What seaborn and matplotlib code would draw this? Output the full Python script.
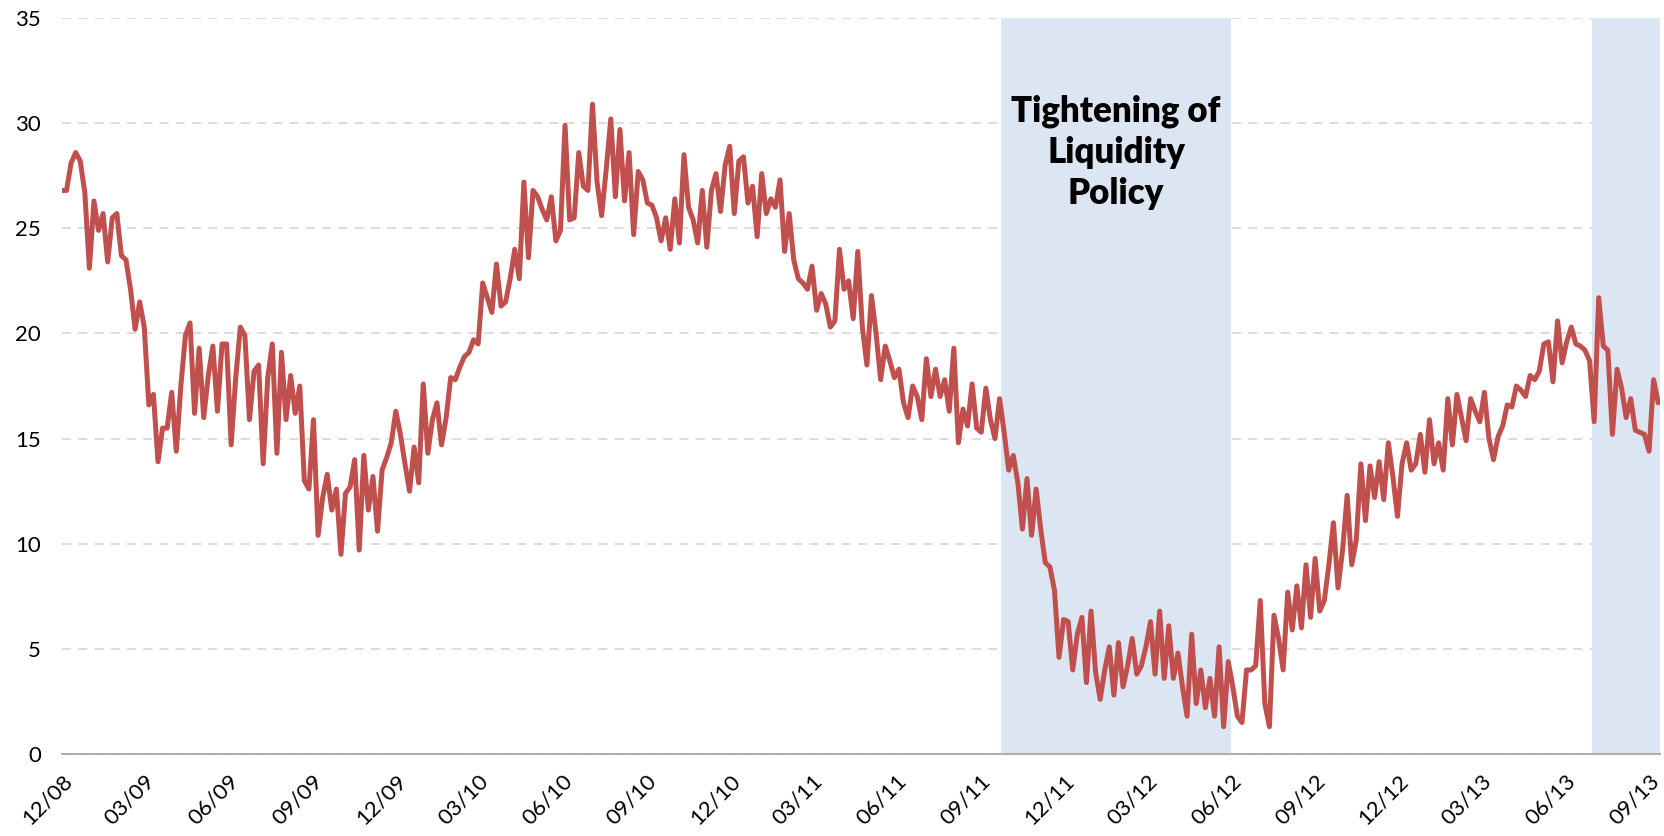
import pandas as pd
import seaborn as sns
import matplotlib.pyplot as plt
from matplotlib.transforms import ScaledTranslation

# --- data (one value every 5 days from 12/2008) ---
start_date = '2008-12-01'
step = '5D'

vals_dec08_oct09 = [
    26.8, 26.8, 28.1, 28.6, 28.2, 26.7, 23.1, 26.3, 24.9, 25.7,
    23.4, 25.5, 25.7, 23.7, 23.5, 22.1, 20.2, 21.5, 20.3, 16.6,
    17.1, 13.9, 15.5, 15.5, 17.2, 14.4, 17.5, 19.9, 20.5, 16.2,
    19.3, 16.0, 18.0, 19.4, 16.3, 19.5, 19.5, 14.7, 17.9, 20.3,
    19.9, 15.9, 18.2, 18.5, 13.8, 17.9, 19.5, 14.3, 19.1, 15.9,
    18.0, 16.2, 17.5, 13.0, 12.6, 15.9, 10.4, 12.2, 13.3, 11.6,
    12.6, 9.5, 12.4, 12.7,
]
vals_oct09_aug10 = [
    14.0, 9.7, 14.2, 11.6, 13.2, 10.6, 13.5, 14.1, 14.8, 16.3,
    15.2, 13.8, 12.5, 14.6, 12.9, 17.6, 14.3, 15.9, 16.7, 14.7,
    16.0, 17.9, 17.8, 18.4, 18.9, 19.1, 19.7, 19.5, 22.4, 21.7,
    21.0, 23.3, 21.3, 21.5, 22.6, 24.0, 22.6, 27.2, 23.6, 26.8,
    26.5, 25.9, 25.4, 26.5, 24.4, 24.9, 29.9, 25.4, 25.5, 28.6,
    27.0, 26.8, 30.9, 27.2, 25.6, 27.8, 30.2, 26.5, 29.7, 26.3,
    28.6,
]
vals_aug10_feb11 = [
    24.7, 27.7, 27.3, 26.2, 26.1, 25.5, 24.4, 25.5, 24.0, 26.4,
    24.3, 28.5, 26.0, 25.4, 24.3, 26.8, 24.1, 26.8, 27.6, 25.8,
    28.0, 28.9, 25.7, 28.2, 28.4, 26.2, 27.0, 24.6, 27.6, 25.7,
    26.4, 26.0, 27.3, 23.9, 25.7, 23.5, 22.6,
]
vals_feb11_nov11 = [
    22.4, 22.1, 23.2, 21.1, 21.9, 21.4, 20.3, 20.6, 24.0, 22.1,
    22.5, 20.7, 23.9, 20.3, 18.5, 21.8, 20.0, 17.8, 19.4, 18.7,
    17.9, 18.3, 16.7, 16.0, 17.5, 17.0, 15.9, 18.8, 17.0, 18.3,
    17.0, 17.8, 16.3, 19.3, 14.8, 16.4, 15.6, 17.6, 15.5, 15.3,
    17.4, 15.9, 15.0, 16.9, 15.3, 13.5, 14.2, 12.9, 10.7, 13.1,
    10.4, 12.6, 10.7, 9.1, 8.9, 7.8,
]
vals_nov11_aug12 = [
    4.6, 6.4, 6.3, 4.0, 5.7, 6.5, 3.4, 6.8, 3.9, 2.6,
    4.0, 5.1, 2.8, 5.3, 3.2, 4.2, 5.5, 3.8, 4.2, 5.1,
    6.3, 3.8, 6.8, 3.6, 6.1, 3.6, 4.8, 3.2, 1.8, 5.7,
    2.4, 4.0, 2.2, 3.6, 1.8, 5.1, 1.3, 4.4, 3.2, 1.8,
    1.5, 4.0, 4.0, 4.2, 7.3, 2.4, 1.3, 6.6, 5.5, 4.0,
    7.7, 5.9, 8.0,
]
vals_aug12_may13 = [
    6.0, 9.0, 6.5, 9.3, 6.8, 7.3, 9.0, 11.0, 7.9, 9.7,
    12.3, 9.0, 10.2, 13.8, 11.1, 13.7, 12.2, 13.9, 12.1, 14.8,
    13.2, 11.3, 13.8, 14.8, 13.5, 13.8, 15.2, 13.4, 15.9, 13.8,
    14.8, 13.5, 16.9, 14.7, 17.1, 16.0, 14.9, 16.9, 16.3, 15.8,
    17.2, 15.0, 14.0, 15.1, 15.6, 16.6, 16.5, 17.5, 17.3, 17.0,
    18.0,
]
vals_may13_sep13 = [
    17.8, 18.2, 19.5, 19.6, 17.7, 20.6, 18.6, 19.6, 20.3, 19.5,
    19.4, 19.2, 18.7, 15.8, 21.7, 19.4, 19.2, 15.2, 18.3, 17.4,
    16.0, 16.9, 15.4, 15.3, 15.2, 14.4, 17.8, 16.7,
]

# shaded periods
shade_periods = [('2011-09-24', '2012-06-01'), ('2013-07-01', '2013-09-13')]
shade_label = 'Tightening of\nLiquidity\nPolicy'

x_end = '2013-09-13'
tick_dates = pd.date_range('2008-12-01', '2013-09-01', freq='3MS')

values = (vals_dec08_oct09 + vals_oct09_aug10 + vals_aug10_feb11 + vals_feb11_nov11
          + vals_nov11_aug12 + vals_aug12_may13 + vals_may13_sep13)
df = pd.DataFrame({
    'date': pd.date_range(start_date, periods=len(values), freq=step),
    'value': values,
})

# --- style ---
sns.set_style('white')
plt.rcParams['font.family'] = ['Lato', 'DejaVu Sans']
plt.rcParams['text.color'] = 'black'

fig, ax = plt.subplots(figsize=(16.65, 8.36), dpi=100)
fig.subplots_adjust(left=0.0372, right=0.997, top=0.9785, bottom=0.098)

# shaded regions
for s, e in shade_periods:
    ax.axvspan(pd.Timestamp(s), pd.Timestamp(e), color='#DCE6F2', lw=0, zorder=1)

sns.lineplot(data=df, x='date', y='value', ax=ax, color='#C0504D', lw=3.6, zorder=3)

# annotation in the middle of the first shaded period
s0, e0 = pd.Timestamp(shade_periods[0][0]), pd.Timestamp(shade_periods[0][1])
ax.text(s0 + (e0 - s0) / 2, 28.6, shade_label, ha='center', va='center',
        fontsize=25, fontweight='heavy', linespacing=1.3, color='black', zorder=4)

# axes
ax.set_ylim(0, 35)
ax.set_yticks(range(0, 36, 5))
ax.set_xlim(pd.Timestamp(start_date), pd.Timestamp(x_end))
ax.set_xticks(tick_dates)
ax.set_xticklabels([d.strftime('%m/%y') for d in tick_dates], rotation=45,
                   ha='right', va='top', rotation_mode='anchor')
ax.set_xlabel('')
ax.set_ylabel('')

# nudge rotated labels so their upper end sits under the tick
shift = ScaledTranslation(0.12, 0, fig.dpi_scale_trans)
for lab in ax.get_xticklabels():
    lab.set_transform(lab.get_transform() + shift)

ax.yaxis.grid(True, color='#D9D9D9', linestyle=(0, (5, 4)), lw=1.3)
ax.xaxis.grid(False)
ax.set_axisbelow(True)

for side in ['left', 'right', 'top']:
    ax.spines[side].set_visible(False)
ax.spines['bottom'].set_color('#A6A6A6')
ax.spines['bottom'].set_linewidth(1.3)

ax.tick_params(axis='x', direction='out', length=6, width=1.3, color='#A6A6A6',
               labelsize=16, pad=6, labelcolor='black')
ax.tick_params(axis='y', length=0, labelsize=16, pad=15, labelcolor='black')

plt.savefig('out.png', dpi=100)
plt.close()
